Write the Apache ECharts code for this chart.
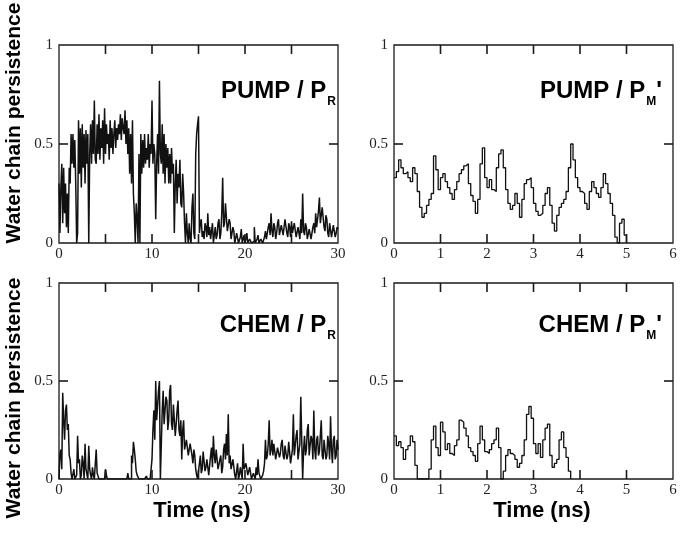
<!DOCTYPE html>
<html><head><meta charset="utf-8">
<script src="https://cdn.jsdelivr.net/npm/echarts@6.0.0/dist/echarts.min.js"></script>
<style>html,body{margin:0;padding:0;background:#fff}#c{width:680px;height:537px}</style>
</head><body><div id="c"></div>
<script>
// ---- data ----
const leftStep = 0.1;   // ns between samples, left panels
const rightStep = 0.05; // ns between samples, right panels

const pumpPR = [
 0.30,0.05,0.28,0.40,0.10,0.38,0.15,0.30,0.08,0.25,
 0.05,0.38,0.30,0.55,0.40,0.55,0.38,0.52,0.30,0.00,
 0.05,0.62,0.35,0.58,0.28,0.60,0.38,0.55,0.30,0.57,
 0.40,0.55,0.00,0.45,0.60,0.40,0.62,0.45,0.72,0.42,
 0.40,0.60,0.45,0.65,0.42,0.58,0.48,0.62,0.40,0.68,
 0.45,0.60,0.50,0.55,0.42,0.62,0.48,0.58,0.45,0.55,
 0.62,0.48,0.58,0.52,0.60,0.55,0.65,0.52,0.63,0.58,
 0.55,0.67,0.50,0.62,0.45,0.58,0.35,0.55,0.30,0.62,
 0.25,0.15,0.00,0.20,0.12,0.00,0.45,0.00,0.55,0.35,
 0.52,0.38,0.55,0.40,0.48,0.42,0.55,0.38,0.50,0.45,
 0.72,0.40,0.50,0.45,0.12,0.40,0.55,0.35,0.82,0.45,
 0.40,0.60,0.35,0.55,0.30,0.50,0.38,0.48,0.30,0.45,
 0.30,0.48,0.35,0.40,0.05,0.30,0.42,0.20,0.35,0.28,
 0.42,0.20,0.18,0.35,0.25,0.10,0.00,0.15,0.05,0.00,
 0.10,0.02,0.00,0.18,0.25,0.05,0.02,0.45,0.55,0.60,
 0.64,0.05,0.10,0.12,0.03,0.06,0.02,0.10,0.08,0.03,
 0.15,0.04,0.08,0.02,0.06,0.10,0.00,0.04,0.08,0.02,
 0.04,0.10,0.12,0.02,0.05,0.15,0.33,0.08,0.10,0.20,
 0.20,0.06,0.05,0.12,0.10,0.02,0.02,0.08,0.06,0.00,
 0.00,0.05,0.04,0.00,0.00,0.03,0.07,0.00,0.02,0.04,
 0.00,0.02,0.05,0.00,0.00,0.02,0.03,0.00,0.00,0.01,
 0.08,0.00,0.00,0.02,0.04,0.00,0.00,0.02,0.02,0.00,
 0.00,0.03,0.06,0.02,0.02,0.08,0.10,0.04,0.15,0.06,
 0.03,0.10,0.08,0.02,0.05,0.10,0.12,0.04,0.04,0.09,
 0.10,0.04,0.05,0.12,0.12,0.05,0.03,0.10,0.08,0.03,
 0.11,0.05,0.04,0.10,0.09,0.03,0.03,0.08,0.07,0.02,
 0.12,0.05,0.25,0.06,0.04,0.10,0.08,0.02,0.02,0.07,
 0.06,0.02,0.03,0.08,0.10,0.05,0.15,0.08,0.12,0.16,
 0.23,0.10,0.10,0.18,0.18,0.08,0.06,0.14,0.12,0.05,
 0.03,0.10,0.09,0.03,0.04,0.09,0.08,0.03,0.05,0.08,
 0.07
];
const chemPR = [
 0.00,0.13,0.15,0.05,0.44,0.30,0.20,0.35,0.38,0.25,
 0.28,0.12,0.10,0.03,0.00,0.00,0.05,0.00,0.00,0.02,
 0.22,0.08,0.10,0.00,0.02,0.12,0.08,0.00,0.18,0.05,
 0.04,0.00,0.17,0.05,0.02,0.00,0.06,0.02,0.00,0.00,
 0.15,0.03,0.02,0.00,0.00,0.00,0.00,0.00,0.00,0.00,
 0.05,0.02,0.00,0.00,0.00,0.00,0.00,0.00,0.00,0.00,
 0.00,0.00,0.00,0.00,0.00,0.00,0.00,0.00,0.00,0.00,
 0.00,0.00,0.00,0.00,0.03,0.00,0.00,0.00,0.12,0.08,
 0.19,0.15,0.10,0.04,0.02,0.02,0.00,0.00,0.00,0.00,
 0.00,0.00,0.00,0.00,0.015,0.00,0.00,0.00,0.00,0.00,
 0.10,0.25,0.35,0.20,0.50,0.30,0.30,0.45,0.50,0.00,
 0.00,0.35,0.45,0.28,0.28,0.42,0.40,0.25,0.30,0.45,
 0.48,0.28,0.25,0.38,0.38,0.22,0.28,0.35,0.40,0.25,
 0.22,0.30,0.10,0.25,0.30,0.15,0.15,0.20,0.20,0.12,
 0.13,0.18,0.18,0.12,0.08,0.15,0.12,0.05,0.02,0.00,
 0.00,0.08,0.12,0.03,0.05,0.14,0.14,0.04,0.06,0.10,
 0.10,0.02,0.03,0.12,0.16,0.06,0.22,0.12,0.08,0.15,
 0.14,0.05,0.04,0.10,0.12,0.03,0.06,0.15,0.18,0.10,
 0.23,0.12,0.33,0.08,0.12,0.05,0.05,0.10,0.10,0.02,
 0.00,0.04,0.08,0.00,0.02,0.06,0.05,0.00,0.18,0.05,
 0.04,0.08,0.08,0.02,0.02,0.06,0.06,0.00,0.00,0.03,
 0.03,0.00,0.06,0.02,0.10,0.03,0.02,0.00,0.00,0.02,
 0.04,0.08,0.20,0.10,0.12,0.18,0.30,0.12,0.15,0.20,
 0.12,0.18,0.18,0.10,0.10,0.16,0.16,0.11,0.13,0.18,
 0.20,0.12,0.10,0.17,0.17,0.10,0.12,0.19,0.19,0.08,
 0.08,0.15,0.33,0.12,0.12,0.22,0.25,0.10,0.10,0.18,
 0.42,0.20,0.00,0.15,0.22,0.12,0.15,0.25,0.28,0.12,
 0.12,0.22,0.20,0.10,0.35,0.15,0.10,0.20,0.22,0.12,
 0.14,0.22,0.30,0.12,0.10,0.20,0.20,0.10,0.12,0.22,
 0.18,0.10,0.32,0.15,0.08,0.20,0.22,0.10,0.12,0.20,
 0.15
];
const pumpPM = [
 0.33,0.36,0.42,0.38,0.35,0.36,0.33,0.31,0.38,0.35,
 0.26,0.18,0.13,0.15,0.19,0.22,0.25,0.44,0.37,0.27,
 0.33,0.35,0.31,0.28,0.25,0.22,0.27,0.31,0.35,0.37,
 0.39,0.40,0.30,0.24,0.21,0.15,0.22,0.40,0.48,0.33,
 0.28,0.32,0.27,0.26,0.38,0.45,0.47,0.38,0.27,0.20,
 0.17,0.19,0.25,0.20,0.13,0.22,0.30,0.32,0.33,0.28,
 0.20,0.16,0.14,0.15,0.19,0.25,0.28,0.19,0.10,0.06,
 0.14,0.18,0.20,0.22,0.26,0.38,0.50,0.42,0.33,0.28,
 0.26,0.25,0.20,0.17,0.26,0.31,0.28,0.25,0.23,0.28,
 0.35,0.30,0.25,0.20,0.14,0.03,0.00,0.10,0.12,0.04,
 0.00
];
const chemPM = [
 0.22,0.17,0.19,0.16,0.10,0.15,0.17,0.22,0.19,0.07,
 0.00,0.00,0.00,0.00,0.00,0.05,0.20,0.27,0.16,0.12,
 0.29,0.24,0.15,0.18,0.13,0.12,0.17,0.20,0.30,0.29,
 0.26,0.22,0.16,0.14,0.12,0.09,0.18,0.27,0.20,0.14,
 0.13,0.15,0.18,0.20,0.26,0.16,0.00,0.04,0.12,0.15,
 0.13,0.12,0.10,0.06,0.08,0.12,0.20,0.33,0.37,0.31,
 0.18,0.13,0.18,0.11,0.20,0.26,0.28,0.12,0.06,0.08,
 0.10,0.20,0.24,0.16,0.11,0.04,0.00
];
const yTicks = ['0', '0.5', '1'];
const leftXTicks = ['0', '10', '20', '30'];
const rightXTicks = ['0', '1', '2', '3', '4', '5', '6'];
const leftTickMarks = [5, 10, 15, 20, 25];   // inward tick positions, 0-30 ns panels
const rightTickMarks = [1, 2, 3, 4, 5];      // inward tick positions, 0-6 ns panels
const yTickMarks = [0.5];
const panelTitles = [
  {main: 'PUMP / P', sub: 'R', prime: ''},
  {main: 'PUMP / P', sub: 'M', prime: "'"},
  {main: 'CHEM / P', sub: 'R', prime: ''},
  {main: 'CHEM / P', sub: 'M', prime: "'"}
];
const yTitle = 'Water chain persistence';
const xTitle = 'Time (ns)';

// ---- chart ----
const FRAME = '#1a1a1a';
const TICK = 9;
const TW = 1.6;
const grids = [
  {left: 59, top: 45, width: 279, height: 198},
  {left: 394, top: 45, width: 279, height: 198},
  {left: 59, top: 283, width: 279, height: 196},
  {left: 394, top: 283, width: 279, height: 196}
].map(g => Object.assign(g, {show: true, borderColor: FRAME, borderWidth: 1.3, backgroundColor: 'transparent'}));
const panels = [
  {data: pumpPR, step: leftStep, xmax: 30, xint: 5, labels: leftXTicks, ticks: leftTickMarks},
  {data: pumpPM, step: rightStep, xmax: 6, xint: 1, labels: rightXTicks, ticks: rightTickMarks},
  {data: chemPR, step: leftStep, xmax: 30, xint: 5, labels: leftXTicks, ticks: leftTickMarks},
  {data: chemPM, step: rightStep, xmax: 6, xint: 1, labels: rightXTicks, ticks: rightTickMarks}
];
const labelFont = () => ({fontFamily: 'Liberation Serif', fontSize: 15, color: '#222'});

const xAxis = [], yAxis = [], series = [];
panels.forEach((p, i) => {
  const xFmt = v => { const s = String(Math.round(v)); return p.labels.indexOf(s) >= 0 ? s : ''; };
  xAxis.push({gridIndex: i, type: 'value', min: 0, max: p.xmax, interval: p.xint, position: 'bottom',
    axisLine: {show: false, onZero: false}, axisTick: {show: false},
    axisLabel: Object.assign({show: true, margin: 4, formatter: xFmt, showMinLabel: true, showMaxLabel: true}, labelFont()),
    splitLine: {show: false}});
  yAxis.push({gridIndex: i, type: 'value', min: 0, max: 1, interval: 0.5, position: 'left',
    axisLine: {show: false, onZero: false}, axisTick: {show: false},
    axisLabel: Object.assign({show: true, margin: 6, formatter: v => yTicks[Math.round(v * 2)]}, labelFont()),
    splitLine: {show: false}});
  series.push({type: 'line', xAxisIndex: i, yAxisIndex: i, step: 'end', symbol: 'none',
    data: p.data.map((v, k) => [k * p.step, v]),
    lineStyle: {color: '#111', width: p.step < 0.08 ? 1.3 : 1.5}, silent: true, z: 2});
});

const titlePos = [[336, 91], [662, 91], [336, 325], [662, 325]];
const graphic = [];
panelTitles.forEach((t, i) => {
  graphic.push({type: 'text', x: titlePos[i][0], y: titlePos[i][1], silent: true,
    style: {text: '{b|' + t.main + '}{s|' + t.sub + '}' + (t.prime ? '{b|' + t.prime + '}' : ''),
      align: 'right', verticalAlign: 'middle',
      rich: {
        b: {fontFamily: 'Liberation Sans', fontWeight: 'bold', fontSize: 24, lineHeight: 24, fill: '#000', verticalAlign: 'top'},
        s: {fontFamily: 'Liberation Sans', fontWeight: 'bold', fontSize: 12, lineHeight: 12, fill: '#000', verticalAlign: 'top', padding: [17, 0, 0, 1]}
      }}});
});
[123, 398].forEach(cy => {
  graphic.push({type: 'text', x: 14, y: cy, rotation: Math.PI / 2, silent: true,
    style: {text: yTitle, align: 'center', verticalAlign: 'middle', fill: '#000',
      font: 'bold 21px "Liberation Sans"'}});
});
[202, 542].forEach(cx => {
  graphic.push({type: 'text', x: cx, y: 511, silent: true,
    style: {text: xTitle, align: 'center', verticalAlign: 'middle', fill: '#000',
      font: 'bold 22px "Liberation Sans"'}});
});

const chart = echarts.init(document.getElementById('c'), null, {renderer: 'canvas'});
chart.setOption({animation: false, backgroundColor: '#fff', grid: grids, xAxis, yAxis, series, graphic});

// inward tick marks on all four sides (thin filled bars), positioned through each panel's axis scales
const tickGraphics = [];
const bar = (x, y, w, h) => ({type: 'rect', silent: true, z: 100, zlevel: 0,
  shape: {x: x, y: y, width: w, height: h}, style: {fill: FRAME, stroke: null}});
panels.forEach((p, i) => {
  const finder = {xAxisIndex: i, yAxisIndex: i};
  p.ticks.forEach(v => {
    const b = chart.convertToPixel(finder, [v, 0]);
    const t = chart.convertToPixel(finder, [v, 1]);
    tickGraphics.push(bar(b[0] - TW / 2, b[1] - TICK, TW, TICK));
    tickGraphics.push(bar(t[0] - TW / 2, t[1], TW, TICK));
  });
  yTickMarks.forEach(v => {
    const l = chart.convertToPixel(finder, [0, v]);
    const r = chart.convertToPixel(finder, [p.xmax, v]);
    tickGraphics.push(bar(l[0], l[1] - TW / 2, TICK, TW));
    tickGraphics.push(bar(r[0] - TICK, r[1] - TW / 2, TICK, TW));
  });
});
chart.setOption({graphic: {elements: graphic.concat(tickGraphics)}});
</script></body></html>
